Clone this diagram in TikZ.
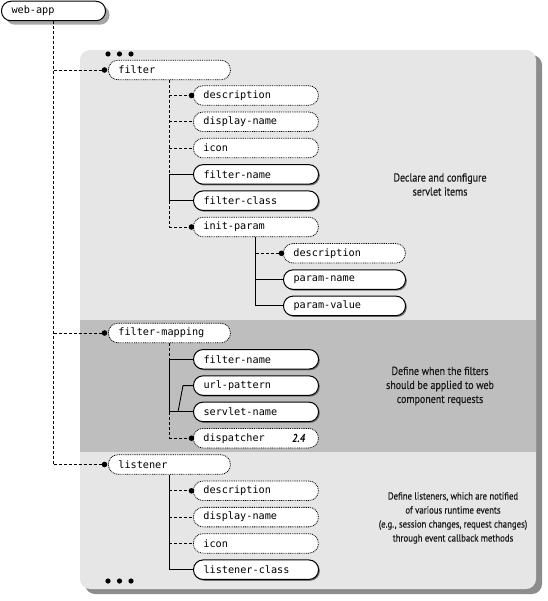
\documentclass[tikz,border=0pt]{standalone}
\usepackage{fontspec}
\newfontfamily\codefont{DejaVu Sans Mono}
\newfontfamily\notefont[FakeStretch=0.86, FakeBold=0.5]{PT Sans}
\newfontfamily\verfont[FakeStretch=0.86]{PT Sans}
\usetikzlibrary{shadows,calc}
\definecolor{panel}{HTML}{E6E6E6}
\definecolor{band}{HTML}{BEBEBE}
\definecolor{pshadow}{HTML}{8C8C8C}
\definecolor{notecol}{HTML}{1A1A1A}
\begin{document}
\begin{tikzpicture}[x=1pt,y=-1pt,
  elem/.style={draw, fill=white, rounded corners=9.5pt, minimum height=19.5pt,
    inner xsep=10pt, inner ysep=0pt, align=left, anchor=west,
    font=\codefont\fontsize{10.2}{12}\selectfont},
  wchild/.style={text width=105pt},
  wtop/.style={text width=102pt},
  req/.style={elem, line width=1pt,
    drop shadow={shadow xshift=1.3pt, shadow yshift=-1.3pt, fill=black!55, opacity=1}},
  opt/.style={elem, line width=0.8pt, dash pattern=on 0.9pt off 0.9pt},
  dotn/.style={circle, fill=black, inner sep=0pt, minimum size=5.6pt},
  dsh/.style={line width=0.9pt, dash pattern=on 3pt off 2pt},
  sol/.style={line width=0.9pt},
  note/.style={align=center, text=notecol, font=\notefont\fontsize{11.6}{14}\selectfont},
  smallnote/.style={align=center, text=notecol, font=\notefont\fontsize{10.2}{14}\selectfont},
  ver/.style={anchor=east, font=\verfont\bfseries\itshape\fontsize{11.5}{12}\selectfont}
]
\useasboundingbox (0,0) rectangle (547,601);

% panel and band
\fill[pshadow, rounded corners=10pt] (85,55) rectangle (542,594);
\fill[panel, rounded corners=10pt] (80,50) rectangle (536,589);
\fill[band] (80,320) rectangle (536,452);

% ellipsis dots
\foreach \x in {108,119.5,131} \fill (\x,54) circle[radius=2.6pt];
\foreach \x in {108,119.5,131} \fill (\x,581) circle[radius=2.6pt];

% web-app
\node[elem, line width=1pt, text width=84pt,
  drop shadow={shadow xshift=4pt, shadow yshift=-4pt, fill=black!35, opacity=1}]
  (webapp) at (1,11) {web-app};

% filter
\node[opt, wtop] (filter) at (108,70) {filter};
\node[opt, wchild] (fdesc) at (193,95.5) {description};
\node[opt, wchild] (fdisp) at (193,121.8) {display-name};
\node[opt, wchild] (ficon) at (193,148.1) {icon};
\node[req, wchild] (fname) at (193,174.4) {filter-name};
\node[req, wchild] (fclass) at (193,200.7) {filter-class};
\node[opt, wchild] (initparam) at (193,227) {init-param};
\node[opt, wtop] (pdesc) at (283,253.3) {description};
\node[req, wtop] (pname) at (283,279.6) {param-name};
\node[req, wtop] (pvalue) at (283,305.9) {param-value};

% filter-mapping
\node[opt, wtop] (fmap) at (108,333) {filter-mapping};
\node[req, wchild] (mname) at (193,359.3) {filter-name};
\node[req, wchild] (murl) at (193,385.6) {url-pattern};
\node[req, wchild] (mservlet) at (193,411.9) {servlet-name};
\node[opt, wchild] (mdisp) at (193,438.2) {dispatcher};
\node[ver] (v24) at ([xshift=-10pt]mdisp.east) {2.4};

% listener
\node[opt, wtop] (listener) at (108,464.5) {listener};
\node[opt, wchild] (ldesc) at (193,490.8) {description};
\node[opt, wchild] (ldisp) at (193,517.1) {display-name};
\node[opt, wchild] (licon) at (193,543.4) {icon};
\node[req, wchild] (lclass) at (193,569.7) {listener-class};

% dots at optional-but-repeatable elements
\node[dotn] (dfilter) at ([xshift=-3.5pt]filter.west) {};
\node[dotn] (dfmap) at ([xshift=-3.5pt]fmap.west) {};
\node[dotn] (dlistener) at ([xshift=-3.5pt]listener.west) {};
\node[dotn] (dfdesc) at ([xshift=-1.5pt]fdesc.west) {};
\node[dotn] (dinit) at ([xshift=-1.5pt]initparam.west) {};
\node[dotn] (dpdesc) at ([xshift=-1.5pt]pdesc.west) {};
\node[dotn] (dmdisp) at ([xshift=-1.5pt]mdisp.west) {};
\node[dotn] (dldesc) at ([xshift=-1.5pt]ldesc.west) {};

% web-app spine
\draw[dsh] (webapp.south) -- (webapp.south |- listener.west);
\draw[dsh] (webapp.south |- filter.west) -- (dfilter);
\draw[dsh] (webapp.south |- fmap.west) -- (dfmap);
\draw[dsh] (webapp.south |- listener.west) -- (dlistener);

% filter spine
\draw[dsh] (filter.south) -- (filter.south |- fname.west);
\draw[sol] (filter.south |- fname.west) -- (filter.south |- fclass.west);
\draw[dsh] (filter.south |- fclass.west) -- (filter.south |- initparam.west);
\draw[dsh] (filter.south |- fdesc.west) -- (dfdesc);
\draw[dsh] (filter.south |- fdisp.west) -- (fdisp.west);
\draw[dsh] (filter.south |- ficon.west) -- (ficon.west);
\draw[sol] (filter.south |- fname.west) -- (fname.west);
\draw[sol] (filter.south |- fclass.west) -- (fclass.west);
\draw[dsh] (filter.south |- initparam.west) -- (dinit);

% init-param spine
\draw[sol] (initparam.south) -- (initparam.south |- pvalue.west);
\draw[dsh] (initparam.south |- pdesc.west) -- (dpdesc);
\draw[sol] (initparam.south |- pname.west) -- (pname.west);
\draw[sol] (initparam.south |- pvalue.west) -- (pvalue.west);

% filter-mapping spine
\draw[dsh] (fmap.south) -- (fmap.south |- mname.west);
\draw[sol] (fmap.south |- mname.west) -- (fmap.south |- mservlet.west);
\draw[dsh] (fmap.south |- mservlet.west) -- (fmap.south |- mdisp.west);
\draw[sol] (fmap.south |- mname.west) -- (mname.west);
\coordinate (br) at ([xshift=-15pt]mservlet.west);
\draw[sol] (fmap.south |- mservlet.west) -- (br) -- (mservlet.west);
\draw[sol] (br) -- ([xshift=-10pt]murl.west) -- (murl.west);
\draw[dsh] (fmap.south |- mdisp.west) -- (dmdisp);

% listener spine
\draw[sol] (listener.south) -- (listener.south |- lclass.west);
\draw[dsh] (listener.south |- ldesc.west) -- (dldesc);
\draw[dsh] (listener.south |- ldisp.west) -- (ldisp.west);
\draw[dsh] (listener.south |- licon.west) -- (licon.west);
\draw[sol] (listener.south |- lclass.west) -- (lclass.west);

% notes
\node[note] (n1) at (440,184.5) {Declare and configure\\servlet items};
\node[note] (n2) at (440,386) {Define when the filters\\should be applied to web\\component requests};
\node[smallnote] (n3) at (453,518) {Define listeners, which are notified\\of various runtime events\\(e.g., session changes, request changes)\\through event callback methods};
\end{tikzpicture}
\end{document}
